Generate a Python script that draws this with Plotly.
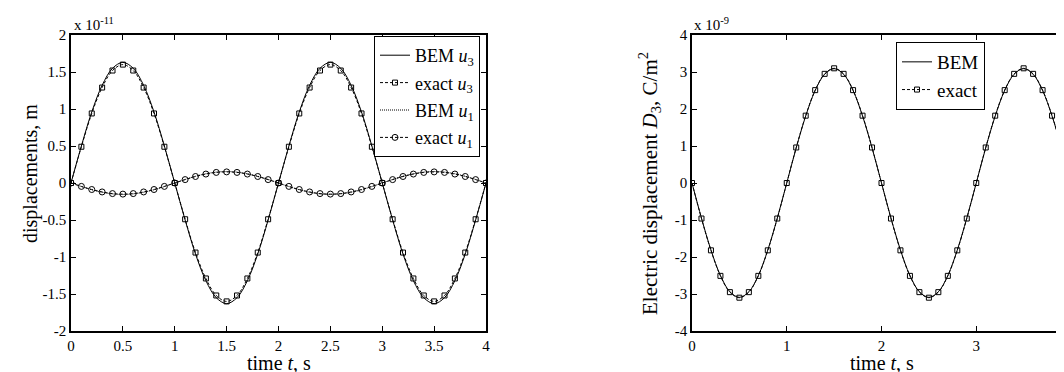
import plotly.graph_objects as go

# ---------------- data ----------------
t = [round(0.1 * i, 1) for i in range(41)]  # time, s

# left panel, displacements in units of 1e-11 m
u3_exact = [0, 0.49, 0.94, 1.29, 1.52, 1.60, 1.52, 1.29, 0.94, 0.49,
            0, -0.49, -0.94, -1.29, -1.52, -1.60, -1.52, -1.29, -0.94, -0.49,
            0, 0.49, 0.94, 1.29, 1.52, 1.60, 1.52, 1.29, 0.94, 0.49,
            0, -0.49, -0.94, -1.29, -1.52, -1.60, -1.52, -1.29, -0.94, -0.49, 0]
u3_bem = [0, 0.50, 0.96, 1.32, 1.55, 1.63, 1.55, 1.32, 0.96, 0.50,
          0, -0.50, -0.96, -1.32, -1.55, -1.63, -1.55, -1.32, -0.96, -0.50,
          0, 0.50, 0.96, 1.32, 1.55, 1.63, 1.55, 1.32, 0.96, 0.50,
          0, -0.50, -0.96, -1.32, -1.55, -1.63, -1.55, -1.32, -0.96, -0.50, 0]
u1_exact = [0, -0.046, -0.088, -0.121, -0.143, -0.150, -0.143, -0.121, -0.088, -0.046,
            0, 0.046, 0.088, 0.121, 0.143, 0.150, 0.143, 0.121, 0.088, 0.046,
            0, -0.046, -0.088, -0.121, -0.143, -0.150, -0.143, -0.121, -0.088, -0.046,
            0, 0.046, 0.088, 0.121, 0.143, 0.150, 0.143, 0.121, 0.088, 0.046, 0]
u1_bem = [0, -0.048, -0.091, -0.125, -0.147, -0.155, -0.147, -0.125, -0.091, -0.048,
          0, 0.048, 0.091, 0.125, 0.147, 0.155, 0.147, 0.125, 0.091, 0.048,
          0, -0.048, -0.091, -0.125, -0.147, -0.155, -0.147, -0.125, -0.091, -0.048,
          0, 0.048, 0.091, 0.125, 0.147, 0.155, 0.147, 0.125, 0.091, 0.048, 0]

# right panel, electric displacement in units of 1e-9 C/m^2
d3_exact = [0, -0.96, -1.82, -2.51, -2.95, -3.10, -2.95, -2.51, -1.82, -0.96,
            0, 0.96, 1.82, 2.51, 2.95, 3.10, 2.95, 2.51, 1.82, 0.96,
            0, -0.96, -1.82, -2.51, -2.95, -3.10, -2.95, -2.51, -1.82, -0.96,
            0, 0.96, 1.82, 2.51, 2.95, 3.10, 2.95, 2.51, 1.82, 0.96, 0]
d3_bem = [0, -0.95, -1.81, -2.50, -2.94, -3.09, -2.94, -2.50, -1.81, -0.95,
          0, 0.95, 1.81, 2.50, 2.94, 3.09, 2.94, 2.50, 1.81, 0.95,
          0, -0.95, -1.81, -2.50, -2.94, -3.09, -2.94, -2.50, -1.81, -0.95,
          0, 0.95, 1.81, 2.50, 2.94, 3.09, 2.94, 2.50, 1.81, 0.95, 0]

left_xticks = [0, 0.5, 1, 1.5, 2, 2.5, 3, 3.5, 4]
left_xtext = ["0", "0.5", "1", "1.5", "2", "2.5", "3", "3.5", "4"]
left_yticks = [-2, -1.5, -1, -0.5, 0, 0.5, 1, 1.5, 2]
left_ytext = ["-2", "-1.5", "-1", "-0.5", "0", "0.5", "1", "1.5", "2"]
right_xticks = [0, 1, 2, 3, 4]
right_xtext = ["0", "1", "2", "3", "4"]
right_yticks = [-4, -3, -2, -1, 0, 1, 2, 3, 4]
right_ytext = ["-4", "-3", "-2", "-1", "0", "1", "2", "3", "4"]

# ---------------- figure ----------------
FONT = "Liberation Serif, Times New Roman, serif"
W, H = 1064, 372

fig = go.Figure()

fig.add_trace(go.Scatter(x=t, y=u3_bem, mode="lines", name="BEM <i>u</i><sub>3</sub>",
                         line=dict(color="black", width=1, shape="spline"),
                         xaxis="x", yaxis="y", legend="legend", legendgroup="a"))
fig.add_trace(go.Scatter(x=t, y=u3_exact, mode="lines+markers", name="exact <i>u</i><sub>3</sub>",
                         line=dict(color="black", width=1, dash="3px,2px", shape="spline"),
                         marker=dict(symbol="square-open", size=5, color="black", line=dict(width=1)),
                         xaxis="x", yaxis="y", legend="legend", legendgroup="b"))
fig.add_trace(go.Scatter(x=t, y=u1_bem, mode="lines", name="BEM <i>u</i><sub>1</sub>",
                         line=dict(color="black", width=1, dash="1px,1px", shape="spline"),
                         xaxis="x", yaxis="y", legend="legend", legendgroup="c"))
fig.add_trace(go.Scatter(x=t, y=u1_exact, mode="lines+markers", name="exact <i>u</i><sub>1</sub>",
                         line=dict(color="black", width=1, dash="3px,2px", shape="spline"),
                         marker=dict(symbol="circle-open", size=6, color="black", line=dict(width=1)),
                         xaxis="x", yaxis="y", legend="legend", legendgroup="d"))

fig.add_trace(go.Scatter(x=t, y=d3_bem, mode="lines", name="BEM",
                         line=dict(color="black", width=1, shape="spline"),
                         xaxis="x2", yaxis="y2", legend="legend2"))
fig.add_trace(go.Scatter(x=t, y=d3_exact, mode="lines+markers", name="exact",
                         line=dict(color="black", width=1, dash="3px,2px", shape="spline"),
                         marker=dict(symbol="square-open", size=5, color="black", line=dict(width=1)),
                         xaxis="x2", yaxis="y2", legend="legend2"))

x1_dom = [63 / W, 478 / W]
x2_dom = [684 / W, 1063 / W]
y_dom = [1 - 323 / H, 1 - 27 / H]

axis_common = dict(showline=True, linecolor="black", linewidth=1.5, mirror="ticks",
                   ticks="inside", ticklen=5, tickwidth=1, tickcolor="black",
                   showgrid=False, zeroline=False, automargin=False,
                   tickfont=dict(family=FONT, size=15, color="black"))

fig.update_layout(
    width=W, height=H,
    margin=dict(l=0, r=0, t=0, b=0),
    paper_bgcolor="white", plot_bgcolor="white",
    font=dict(family=FONT, color="black"),
    xaxis=dict(domain=x1_dom, range=[0, 4], tickmode="array", tickvals=left_xticks,
               ticktext=left_xtext, anchor="y", **axis_common),
    yaxis=dict(domain=y_dom, range=[-2, 2], tickmode="array", tickvals=left_yticks,
               ticktext=left_ytext, anchor="x", **axis_common),
    xaxis2=dict(domain=x2_dom, range=[0, 4], tickmode="array", tickvals=right_xticks,
                ticktext=right_xtext, anchor="y2", **axis_common),
    yaxis2=dict(domain=y_dom, range=[-4, 4], tickmode="array", tickvals=right_yticks,
                ticktext=right_ytext, anchor="x2", **axis_common),
    legend=dict(x=472 / W, y=1 - 28 / H, xanchor="right", yanchor="top",
                bgcolor="white", bordercolor="black", borderwidth=1,
                font=dict(family=FONT, size=18, color="black"),
                tracegroupgap=1, itemwidth=30),
    legend2=dict(x=888 / W, y=1 - 34 / H, xanchor="left", yanchor="top",
                 bgcolor="white", bordercolor="black", borderwidth=1,
                 font=dict(family=FONT, size=19, color="black"),
                 tracegroupgap=0, itemwidth=30),
    showlegend=True,
)

ann_font = dict(family=FONT, size=20, color="black")
fig.add_annotation(text="displacements, m", x=22 / W, y=1 - 166 / H, xref="paper", yref="paper",
                   textangle=-90, showarrow=False, font=ann_font, xanchor="center", yanchor="middle")
fig.add_annotation(text="time <i>t</i>, s", x=(63 + 478) / 2 / W, y=1 - 355 / H, xref="paper", yref="paper",
                   showarrow=False, font=ann_font, xanchor="center", yanchor="middle")
fig.add_annotation(text="Electric displacement <i>D</i><sub>3</sub>, C/m<sup>2</sup>", x=641 / W, y=1 - 175 / H,
                   xref="paper", yref="paper", textangle=-90, showarrow=False, font=dict(family=FONT, size=21, color="black"),
                   xanchor="center", yanchor="middle")
fig.add_annotation(text="time <i>t</i>, s", x=(684 + 1063) / 2 / W, y=1 - 355 / H, xref="paper", yref="paper",
                   showarrow=False, font=ann_font, xanchor="center", yanchor="middle")
fig.add_annotation(text="x 10<sup>-11</sup>", x=64 / W, y=1 - 27 / H, xref="paper", yref="paper",
                   showarrow=False, font=dict(family=FONT, size=15, color="black"),
                   xanchor="left", yanchor="bottom")
fig.add_annotation(text="x 10<sup>-9</sup>", x=684 / W, y=1 - 27 / H, xref="paper", yref="paper",
                   showarrow=False, font=dict(family=FONT, size=15, color="black"),
                   xanchor="left", yanchor="bottom")

fig.write_html("out.html")
